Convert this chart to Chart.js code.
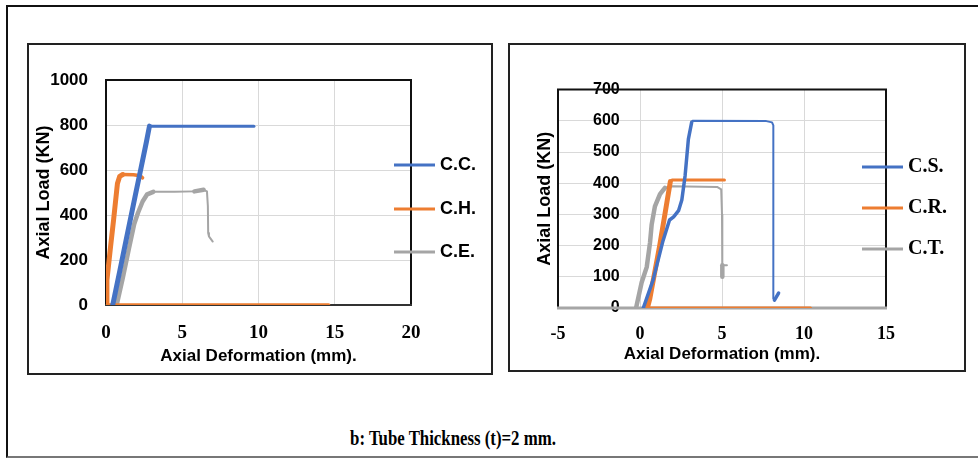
<!DOCTYPE html>
<html>
<head>
<meta charset="utf-8">
<script src="https://cdn.jsdelivr.net/npm/chart.js@4.4.1/dist/chart.umd.min.js"></script>
<style>
  body { margin: 0; background: #fff; width: 978px; height: 460px; position: relative; overflow: hidden; }
  .frame { position: absolute; left: 6px; top: 5px; width: 972px; height: 453px; border-top: 2px solid #111; border-left: 2px solid #111; border-bottom: 2px solid #777; box-sizing: border-box; }
  .box { position: absolute; border: 2px solid #222; box-sizing: border-box; }
  .box canvas { position: absolute; left: 0; top: 0; }
  .caption { position: absolute; left: 253px; width: 400px; top: 426px; text-align: center; font: bold 21px "Liberation Serif", "Times New Roman", serif; color: #000; transform: scaleX(0.8); }
</style>
</head>
<body>
<div class="frame"></div>
<div class="box" style="left:27px; top:43px; width:466px; height:332px;"><canvas id="leftChart" width="462" height="328"></canvas></div>
<div class="box" style="left:508px; top:43px; width:458px; height:329px;"><canvas id="rightChart" width="454" height="325"></canvas></div>
<div class="caption">b: Tube Thickness (t)=2 mm.</div>
<script>
// left chart: C.C., C.H., C.E.
const ccX = [0.44, 0.9, 1.4, 1.9, 2.3, 2.65, 2.85, 9.7];
const ccY = [0, 150, 315, 480, 610, 725, 795, 795];
const chX = [14.6, 0, 0.06, 0.3, 0.5, 0.75, 0.9, 1.1, 1.8, 2.25, 2.4];
const chY = [0, 0, 110, 260, 380, 540, 572, 580, 579, 574, 565];
const ceX = [0.7, 1.1, 1.5, 1.85, 2.1, 2.4, 2.7, 3.1, 4.5, 5.8, 6.4, 6.62, 6.68, 6.7, 6.75, 7.0];
const ceY = [0, 120, 250, 360, 410, 460, 492, 503, 503, 505, 512, 505, 440, 320, 305, 282];

// right chart: C.S., C.R., C.T.
const csX = [0.2, 0.8, 1.4, 1.8, 2.05, 2.35, 2.55, 2.75, 2.95, 3.15, 3.2, 7.7, 8.05, 8.13, 8.13, 8.2, 8.45];
const csY = [0, 90, 215, 282, 292, 312, 346, 424, 541, 595, 600, 599, 595, 585, 30, 25, 48];
const crX = [10.4, 0.45, 0.6, 1.2, 1.85, 1.95, 5.15];
const crY = [0, 0, 30, 200, 405, 410, 410];
const ctX = [-0.24, 0.1, 0.41, 0.61, 0.71, 0.91, 1.22, 1.52, 2.0, 4.7, 4.95, 5.0, 5.02, 5.02, 5.3];
const ctY = [0, 82, 131, 209, 267, 326, 365, 385, 390, 388, 380, 300, 100, 137, 137];

const leftLabels = ['C.C.', 'C.H.', 'C.E.'];
const rightLabels = ['C.S.', 'C.R.', 'C.T.'];
const leftXTicks = [0, 20, 5];      // min, max, step
const leftYTicks = [0, 1000, 200];
const rightXTicks = [-5, 15, 5];
const rightYTicks = [0, 700, 100];

const BLUE = '#4472C4', ORANGE = '#ED7D31', GRAY = '#A5A5A5';
const SANS = '"Liberation Sans", Arial, sans-serif';
const SERIF = '"Liberation Serif", "Times New Roman", serif';

Chart.defaults.color = '#000';

function pts(xs, ys) {
  return xs.map((x, i) => ({ x: x, y: ys[i] }));
}

function widthBy(rise, flat) {
  return ctx => (ctx.p1.parsed.y - ctx.p0.parsed.y > 5 ? rise : flat);
}

function series(label, color, data, rise, flat) {
  return {
    label: label,
    data: data,
    showLine: true,
    borderColor: color,
    backgroundColor: color,
    borderWidth: flat,
    borderCapStyle: 'round',
    borderJoinStyle: 'round',
    pointRadius: 0,
    tension: 0,
    segment: { borderWidth: widthBy(rise, flat) }
  };
}

// plot frame + legend drawn by plugin
const framePlugin = {
  id: 'frame',
  beforeDatasetsDraw(chart, args, opts) {
    const a = chart.chartArea, c = chart.ctx;
    c.save();
    c.lineWidth = 2;
    c.strokeStyle = '#111';
    c.beginPath();
    c.moveTo(a.left, a.bottom);
    c.lineTo(a.left, a.top);
    c.lineTo(a.right, a.top);
    c.lineTo(a.right, a.bottom);
    c.stroke();
    c.lineWidth = opts.bottomWidth;
    c.strokeStyle = opts.bottomColor;
    c.beginPath();
    c.moveTo(a.left - 1, a.bottom);
    c.lineTo(a.right + 1, a.bottom);
    c.stroke();
    c.restore();
  },
  afterDraw(chart, args, opts) {
    const c = chart.ctx;
    c.save();
    c.font = opts.font;
    c.textBaseline = 'middle';
    c.fillStyle = '#000';
    chart.data.datasets.forEach((ds, i) => {
      const y = opts.ys[i];
      c.strokeStyle = ds.borderColor;
      c.lineWidth = 3;
      c.beginPath();
      c.moveTo(opts.x1, y);
      c.lineTo(opts.x2, y);
      c.stroke();
      c.fillText(ds.label, opts.x2 + 5, y);
    });
    c.restore();
  }
};

function makeChart(id, o) {
  return new Chart(document.getElementById(id), {
    type: 'scatter',
    data: { datasets: o.datasets },
    options: {
      responsive: false,
      animation: false,
      devicePixelRatio: 1,
      layout: { padding: { top: o.padTop, right: o.padRight, left: 0, bottom: 0 } },
      plugins: {
        legend: { display: false },
        tooltip: { enabled: false },
        frame: o.frame
      },
      scales: {
        x: {
          type: 'linear',
          min: o.xTicks[0], max: o.xTicks[1],
          afterFit: s => { s.height = o.xHeight; },
          ticks: { stepSize: o.xTicks[2], padding: o.xTickPad, callback: v => String(v), font: { family: SERIF, size: o.xTickSize, weight: 'bold' } },
          grid: { color: '#d9d9d9', lineWidth: 1, drawTicks: false },
          border: { display: false },
          title: { display: true, text: 'Axial Deformation (mm).', padding: { top: 0, bottom: o.xTitlePad }, font: { family: SANS, size: 17, weight: 'bold' } }
        },
        y: {
          type: 'linear',
          min: o.yTicks[0], max: o.yTicks[1],
          afterFit: s => { s.width = o.yWidth; },
          ticks: {
            stepSize: o.yTicks[2], padding: o.yTickPad, mirror: o.yMirror, crossAlign: o.yMirror ? 'far' : 'near',
            callback: v => String(v),
            font: { family: SANS, size: o.yTickSize, weight: 'bold' }
          },
          grid: { color: '#d9d9d9', lineWidth: 1, drawTicks: false },
          border: { display: false },
          title: { display: true, text: 'Axial Load (KN)', padding: { top: o.yTitlePad, bottom: 0 }, font: { family: SANS, size: 18, weight: 'bold' } }
        }
      }
    },
    plugins: [framePlugin]
  });
}

makeChart('leftChart', {
  datasets: [
    series(leftLabels[0], BLUE, pts(ccX, ccY), 5, 3),
    series(leftLabels[1], ORANGE, pts(chX, chY), 5, 3.5),
    series(leftLabels[2], GRAY, pts(ceX, ceY), 4.5, 2)
  ],
  padTop: 35, padRight: 80,
  xTicks: leftXTicks, yTicks: leftYTicks,
  xHeight: 68, yWidth: 77,
  xTickPad: 17, xTickSize: 19, xTitlePad: 6,
  yTickPad: 18, yMirror: false, yTickSize: 17, yTitlePad: 4,
  frame: { bottomColor: '#333', bottomWidth: 2, font: 'bold 18px ' + SANS, x1: 365, x2: 406, ys: [120, 164, 207] }
});

makeChart('rightChart', {
  datasets: [
    series(rightLabels[0], BLUE, pts(csX, csY), 3.5, 2),
    series(rightLabels[1], ORANGE, pts(crX, crY), 5, 3),
    series(rightLabels[2], GRAY, pts(ctX, ctY), 4.5, 2)
  ],
  padTop: 24, padRight: 78,
  xTicks: rightXTicks, yTicks: rightYTicks,
  xHeight: 62, yWidth: 48,
  xTickPad: 16, xTickSize: 18, xTitlePad: 5,
  yTickPad: 35, yMirror: true, yTickSize: 16, yTitlePad: 24,
  frame: { bottomColor: '#a6a6a6', bottomWidth: 3, font: 'bold 20px ' + SERIF, x1: 352, x2: 393, ys: [122, 163, 204] }
});
</script>
</body>
</html>
